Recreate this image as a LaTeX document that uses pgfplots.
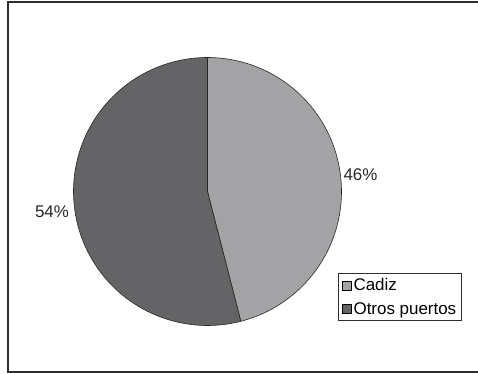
\documentclass[border=0pt]{standalone}
\usepackage{pgfplots}
\pgfplotsset{compat=1.18}
\usepackage{fontspec}
\setmainfont{Liberation Sans}

\definecolor{cadiz}{HTML}{A3A3A5}
\definecolor{otros}{HTML}{646466}
\definecolor{frame}{HTML}{2E2E2E}

% shares of the two groups (percent)
\def\vCadiz{46}
\def\vOtros{54}
\def\R{134}

\begin{document}
\begin{tikzpicture}
\pgfmathsetmacro{\aCadiz}{90-\vCadiz*3.6}
\pgfmathsetmacro{\aOtros}{\aCadiz-\vOtros*3.6}
\begin{axis}[
  scale only axis,
  width=478bp, height=374bp,
  xmin=-207.5, xmax=270.5,
  ymin=-182.5, ymax=191.5,
  axis lines=none,
  clip=false,
  legend cell align=left,
  legend image code/.code={
    \draw[#1, draw=black, line width=0.6pt] (0bp,-4.5bp) rectangle (9bp,4.5bp);
  },
  legend style={
    at={(axis cs:130.5,-81.5)}, anchor=north west,
    draw=frame, line width=1pt,
    font=\fontsize{17}{20}\selectfont,
    inner xsep=3bp, inner ysep=3bp,
    row sep=6bp,
    /tikz/every even column/.append style={column sep=0bp},
    nodes={inner xsep=2.5bp, inner ysep=2bp},
  },
]
% outer frame
\draw[frame, line width=2bp]
  (axis cs:270.5,189.5) -- (axis cs:-199.5,189.5)
  -- (axis cs:-199.5,-180.5) -- (axis cs:270.5,-180.5);

% slices, clockwise from twelve o'clock
\addplot[fill=cadiz, draw=black!85, line width=0.6pt, data cs=polar,
  domain=\aCadiz:90, samples=120]
  (x,\R) -- (axis cs:0,0) -- cycle;
\addlegendentry{Cadiz}
\addplot[fill=otros, draw=black!85, line width=0.6pt, data cs=polar,
  domain=\aOtros:\aCadiz, samples=200]
  (x,\R) -- (axis cs:0,0) -- cycle;
\addlegendentry{Otros puertos}

% percentage labels
\node[font=\fontsize{17}{20}\selectfont, text=black!85]
  at (axis cs:153,16.5) {46\%};
\node[font=\fontsize{17}{20}\selectfont, text=black!85]
  at (axis cs:-155.5,-20) {54\%};
\end{axis}
\pgfresetboundingbox
\path (current axis.south west) rectangle (current axis.north east);
\end{tikzpicture}
\end{document}
